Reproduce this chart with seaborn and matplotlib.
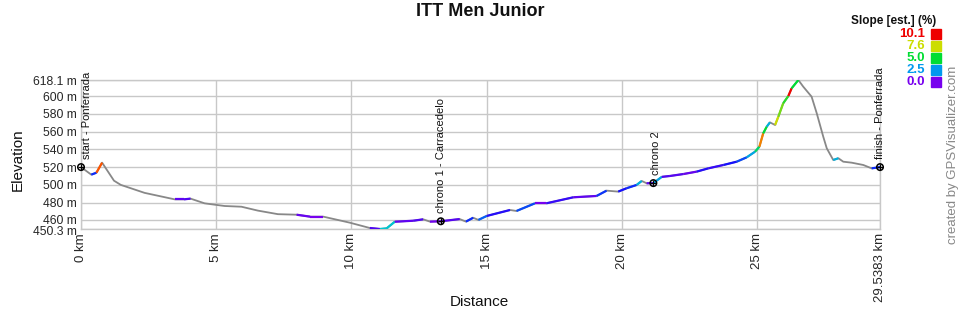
import numpy as np
import pandas as pd
import matplotlib
matplotlib.use("Agg")
import matplotlib.pyplot as plt
import matplotlib.transforms as mtransforms
from matplotlib.collections import LineCollection
from matplotlib.colors import LinearSegmentedColormap, Normalize
import seaborn as sns

# ---- data ----
distance_km = [0.00, 0.38, 0.57, 0.78, 1.22, 1.47, 2.35, 3.46, 3.81, 4.05,
               4.57, 5.31, 5.93, 6.54, 7.28, 7.97, 8.47, 8.96, 9.94, 10.68,
               11.05, 11.30, 11.60, 12.28, 12.65, 12.90, 13.30, 14.00, 14.23, 14.50,
               14.69, 15.00, 15.86, 16.10, 16.78, 17.20, 18.20, 19.06, 19.43, 19.86,
               20.17, 20.54, 20.73, 20.91, 21.16, 21.47, 21.77, 22.27, 22.76, 23.19,
               23.75, 24.24, 24.61, 24.92, 25.08, 25.22, 25.35, 25.47, 25.66, 25.78,
               25.96, 26.15, 26.27, 26.52, 26.70, 27.01, 27.20, 27.44, 27.57, 27.81,
               28.00, 28.18, 28.49, 28.92, 29.23, 29.5383]
elevation_m = [520.0, 511.5, 513.7, 525.0, 504.7, 500.0, 491.0, 483.7, 483.7, 484.5,
               479.2, 476.2, 475.4, 471.0, 467.0, 466.4, 464.2, 464.2, 457.4, 451.4,
               450.3, 451.0, 458.5, 459.6, 461.2, 458.6, 459.0, 461.5, 458.6, 463.0,
               460.5, 465.0, 471.7, 470.6, 479.2, 479.2, 486.0, 487.5, 493.5, 492.4,
               496.2, 499.9, 504.4, 501.8, 502.0, 509.0, 510.0, 512.2, 514.9, 518.6,
               522.4, 526.1, 531.0, 537.4, 543.0, 558.0, 565.5, 570.4, 567.4, 576.8,
               591.9, 600.1, 608.7, 618.1, 610.6, 599.3, 580.6, 554.3, 541.2, 528.0,
               530.0, 526.1, 525.0, 522.4, 518.6, 520.0]
# estimated slope (%) of each segment; negative = downhill (drawn grey)
slope_pct = [-2, 1.5, 9.0, -4, -2, -1, -1, 0.3, 0.5, -1,
             -1, -1, -1, -1, -1, 0.2, 0.0, -1, -1, 0.5,
             3.5, 3.5, 0.3, 0.5, -1, 0.1, 0.4, -1, 1.5, -1,
             2.0, 1.0, -1, 1.8, 0.0, 0.8, 0.3, 1.6, -1, 1.2,
             1.5, 3.0, -1, 0.3, 2.8, 0.5, 0.4, 0.2, 1.0, 0.8,
             1.2, 1.8, 2.8, 4.5, 8.5, 5.0, 3.0, -1, 7.6, 6.5,
             5.5, 10.0, 5.0, -1, -1, -1, -1, -1, -1, 3.0,
             -1, -1, -1, -1, 1.5]
waypoint_km = [0.0, 13.30, 21.16, 29.5383]
waypoint_elev = [520.0, 459.0, 502.0, 520.0]
waypoint_names = ["start - Ponferrada", "chrono 1 - Carracedelo", "chrono 2", "finish - Ponferrada"]
y_ticks = [450.3, 460, 480, 500, 520, 540, 560, 580, 600, 618.1]
x_ticks = [0, 5, 10, 15, 20, 25, 29.5383]
legend_values = [10.1, 7.6, 5.0, 2.5, 0.0]
legend_colors = ["#ee0000", "#ccdd00", "#00dd33", "#0099ee", "#7700ee"]

# ---- styling ----
sns.set_theme(style="white")
plt.rcParams["font.family"] = ["Liberation Sans", "DejaVu Sans"]

cmap = LinearSegmentedColormap.from_list(
    "slope",
    [(0.0, "#7700ee"), (1.25 / 10.1, "#1010ff"), (2.5 / 10.1, "#0099ee"),
     (3.6 / 10.1, "#00cccc"), (5.0 / 10.1, "#00dd33"), (7.6 / 10.1, "#ccdd00"),
     (8.8 / 10.1, "#ff6600"), (1.0, "#ee0000")])
norm = Normalize(0, 10.1)

fig = plt.figure(figsize=(9.6, 3.1), dpi=100)
ax = fig.add_axes([81 / 960, 1 - 229 / 310, 799 / 960, 149 / 310])

df = pd.DataFrame({"Distance": distance_km, "Elevation": elevation_m})
sns.lineplot(data=df, x="Distance", y="Elevation", ax=ax, color="#888888",
             linewidth=1.3, zorder=3)

pts = np.column_stack([distance_km, elevation_m])
segs, cols = [], []
for i, s in enumerate(slope_pct):
    if s >= 0:
        segs.append([pts[i], pts[i + 1]])
        cols.append(cmap(norm(s)))
ax.add_collection(LineCollection(segs, colors=cols, linewidths=1.6, zorder=4,
                                 capstyle="butt"))

ax.set_xlim(0, 29.5383)
ax.set_ylim(450.3, 618.1)
ax.set_yticks(y_ticks)
ax.set_yticklabels([f"{v:g} m" for v in y_ticks], fontsize=8.7)
ax.set_xticks(x_ticks)
ax.set_xticklabels([f"{v:g} km" for v in x_ticks], rotation=90, fontsize=9.5)
ax.tick_params(length=0, pad=3)
# nudge the two crowded bottom labels apart a little
ylabels = ax.get_yticklabels()
ylabels[0].set_transform(ylabels[0].get_transform() +
                         mtransforms.ScaledTranslation(0, -1.5 / 100, fig.dpi_scale_trans))
ylabels[1].set_transform(ylabels[1].get_transform() +
                         mtransforms.ScaledTranslation(0, 1.0 / 100, fig.dpi_scale_trans))
ax.grid(True, color="#c8c8c8", linewidth=1)
for sp in ax.spines.values():
    sp.set_color("#c8c8c8")
    sp.set_linewidth(1)
ax.set_xlabel("")
ax.set_ylabel("")
fig.text(479 / 960, 1 - 302 / 310, "Distance", ha="center", va="center",
         fontsize=11, color="#111111")
fig.text(18 / 960, 1 - 160 / 310, "Elevation", ha="center", va="center",
         rotation=90, fontsize=11, color="#111111")

# waypoints
ax.scatter(waypoint_km, waypoint_elev, s=22, facecolors="none", edgecolors="black",
           linewidths=1.1, zorder=6, clip_on=False)
ax.scatter(waypoint_km, waypoint_elev, s=24, marker="+", color="black",
           linewidths=0.9, zorder=6, clip_on=False)
offsets = [4, 0, 2, 0]
for x, y, name, dx in zip(waypoint_km, waypoint_elev, waypoint_names, offsets):
    ax.annotate(name, (x, y), xytext=(dx, 6), textcoords="offset points",
                rotation=90, ha="center", va="bottom", fontsize=8, color="#111111",
                annotation_clip=False, zorder=7)

# title & credits
fig.text(0.5, 1 - 12 / 310, "ITT Men Junior", ha="center", va="center",
         fontsize=13, fontweight="bold", color="#111111")
fig.text(953 / 960, 1 - 155 / 310, "created by GPSVisualizer.com", rotation=90,
         ha="center", va="center", fontsize=9.5, color="#888888")

# slope legend
fig.text(936 / 960, 1 - 21 / 310, "Slope [est.] (%)", ha="right", va="center",
         fontsize=8.5, fontweight="bold", color="#111111")
for k, (v, c) in enumerate(zip(legend_values, legend_colors)):
    yc = 1 - (34 + k * 12) / 310
    fig.text(925 / 960, yc, f"{v:.1f}", ha="right", va="center", fontsize=9.5,
             fontweight="bold", color=c)
    fig.patches.append(plt.Rectangle((931 / 960, yc - 4.5 / 310), 10 / 960, 9.5 / 310,
                                     transform=fig.transFigure, color=c))

fig.savefig("out.png", dpi=100)
